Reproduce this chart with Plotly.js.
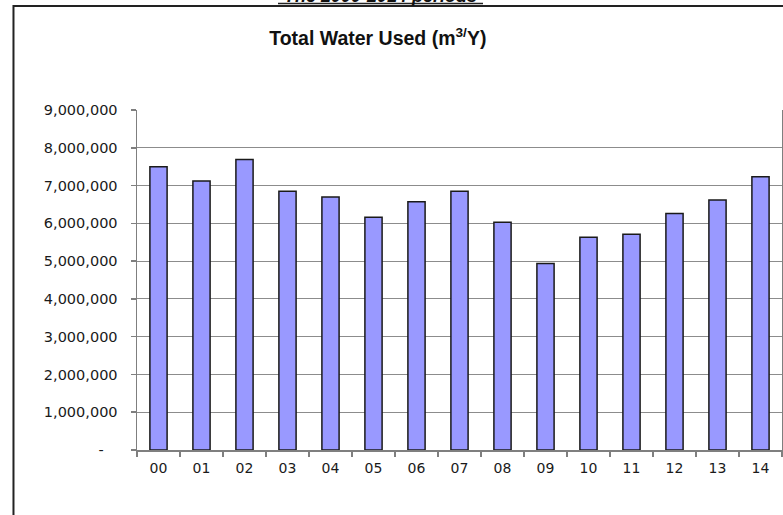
<!DOCTYPE html>
<html>
<head>
<meta charset="utf-8">
<script src="https://cdn.plot.ly/plotly-3.0.1.min.js"></script>
<style>
html,body{margin:0;padding:0;background:#fff;overflow:hidden;}
#chart{width:783px;height:515px;}
</style>
</head>
<body>
<div id="chart"></div>
<script>
const years = ["00","01","02","03","04","05","06","07","08","09","10","11","12","13","14"];
const waterUsed = [7500000,7120000,7690000,6850000,6700000,6160000,6570000,6850000,6030000,4940000,5630000,5710000,6260000,6620000,7230000];
const yTickVals = [0,1000000,2000000,3000000,4000000,5000000,6000000,7000000,8000000,9000000];
const yTickText = ["-\u00a0\u00a0\u00a0","1,000,000","2,000,000","3,000,000","4,000,000","5,000,000","6,000,000","7,000,000","8,000,000","9,000,000"];

const trace = {
  type: "bar",
  x: years,
  y: waterUsed,
  marker: {color: "#9999FF", line: {color: "#1a1a1a", width: 1.5}},
  hoverinfo: "x+y"
};

const layout = {
  width: 783, height: 515,
  margin: {l: 137, r: 1, t: 110, b: 65, pad: 0},
  paper_bgcolor: "#ffffff",
  plot_bgcolor: "#ffffff",
  showlegend: false,
  bargap: 0.6,
  font: {family: "DejaVu Sans, Verdana, sans-serif", size: 13, color: "#1a1a1a"},
  title: {
    text: "<b>Total Water Used (m<sup>3/</sup>Y)</b>",
    font: {family: "Liberation Sans, Arial, sans-serif", size: 19.5, color: "#111"},
    x: 0.4825, xref: "container", xanchor: "center",
    y: 0.926, yref: "container", yanchor: "middle"
  },
  xaxis: {
    type: "category",
    showgrid: false,
    showline: true, linecolor: "#7f7f7f", linewidth: 1.5,
    ticks: "outside", ticklen: 5, tickcolor: "#7f7f7f", tickwidth: 1.5,
    tickson: "boundaries",
    ticklabelstandoff: 5,
    tickfont: {family: "DejaVu Sans, Verdana, sans-serif", size: 14, color: "#1a1a1a"},
    zeroline: false
  },
  yaxis: {
    range: [0, 9000000],
    tickvals: yTickVals,
    ticktext: yTickText,
    showgrid: true, gridcolor: "#8c8c8c", gridwidth: 1.2,
    showline: true, linecolor: "#7f7f7f", linewidth: 1.5, mirror: true,
    ticks: "outside", ticklen: 5, tickcolor: "#7f7f7f", tickwidth: 1.5,
    ticklabelstandoff: 10,
    tickfont: {family: "DejaVu Sans, Verdana, sans-serif", size: 14.5, color: "#1a1a1a"},
    zeroline: false
  },
  shapes: [
    {type: "rect", xref: "paper", yref: "paper",
     x0: -0.1915, x1: 1.05, y0: -0.3, y1: 1.306,
     line: {color: "#222", width: 2}, fillcolor: "rgba(0,0,0,0)", layer: "below"},
    {type: "line", xref: "paper", yref: "paper",
     x0: (278-137)/645, x1: (483-137)/645, y0: (450-3.5)/340, y1: (450-3.5)/340,
     line: {color: "#222", width: 1.5}}
  ],
  annotations: [
    {text: "<b><i>The 2000-2014 periods</i></b>", xref: "paper", yref: "paper",
     x: (380.5-137)/645, y: (450-(-4.5))/340, xanchor: "center", yanchor: "middle",
     showarrow: false, font: {family: "Liberation Sans, Arial, sans-serif", size: 18, color: "#111"}}
  ]
};

Plotly.newPlot("chart", [trace], layout, {displayModeBar: false, staticPlot: true});
</script>
</body>
</html>
